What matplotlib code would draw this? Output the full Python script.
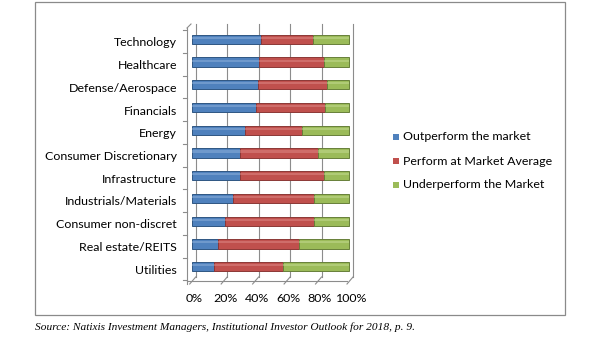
import matplotlib
matplotlib.use("Agg")
import matplotlib.pyplot as plt
import numpy as np
from matplotlib.patches import Rectangle

categories = ["Technology", "Healthcare", "Defense/Aerospace", "Financials", "Energy",
              "Consumer Discretionary", "Infrastructure", "Industrials/Materials",
              "Consumer non-discret", "Real estate/REITS", "Utilities"]
outperform = [44, 43, 42, 41, 34, 31, 31, 26, 21, 17, 14]
average    = [33, 41, 44, 44, 36, 49, 53, 52, 57, 51, 44]
underperf  = [23, 16, 14, 15, 30, 20, 16, 22, 22, 32, 42]
series_names = ["Outperform the market", "Perform at Market Average", "Underperform the Market"]
tick_vals = [0, 20, 40, 60, 80, 100]
tick_labels = ["0%", "20%", "40%", "60%", "80%", "100%"]
source = "Source: Natixis Investment Managers, Institutional Investor Outlook for 2018, p. 9."

colors = ["#4F81BD", "#C0504D", "#9BBB59"]
edges = ["#2F5683", "#8C3836", "#67803A"]
lights = ["#8FB1DC", "#DE8A88", "#C5DC93"]

W, H = 600, 355
fig = plt.figure(figsize=(6, 3.55), dpi=100)
fig.patch.set_facecolor("white")
FONT = "Lato"
FS = 8.9

# outer frame
fig.add_artist(Rectangle((35 / W, 1 - 315 / H), 530 / W, 313 / H, transform=fig.transFigure,
                         fill=False, edgecolor="#8a8a8a", linewidth=0.9))

# pixel mapping of the plot area
x0px, pxper = 191.7, 1.573        # 0% and px per percent
y0px, rowpx = 39.3, 22.74          # first row centre and row spacing
L, R, T, B = 180, 362, 20, 292
ax = fig.add_axes([L / W, 1 - B / H, (R - L) / W, (B - T) / H])
ax.set_xlim((L - x0px) / pxper, (R - x0px) / pxper)
ax.set_ylim((B - y0px) / rowpx, (T - y0px) / rowpx)
ax.axis("off")

def dx(px):
    return (px - x0px) / pxper

def dy(py):
    return (py - y0px) / rowpx

gc = "#8c8c8c"
back = 4.0
# back wall gridlines
for v in tick_vals:
    xb = v + back / pxper
    ax.plot([xb, xb], [dy(24), dy(277)], color=gc, lw=0.8, zorder=1)
    # floor diagonals
    ax.plot([v - 2 / pxper, xb], [dy(284), dy(277)], color=gc, lw=0.8, zorder=1)
# floor front line
ax.plot([dx(187), dx(347)], [dy(281), dy(281)], color=gc, lw=0.8, zorder=1)
# left axis
ax.plot([dx(187), dx(187)], [dy(28), dy(284)], color=gc, lw=0.8, zorder=1)
ax.plot([dx(187), dx(191)], [dy(28), dy(24)], color=gc, lw=0.8, zorder=1)
for k in range(len(categories) + 1):
    yk = k - 0.5 + 0.1
    ax.plot([dx(183), dx(187)], [yk, yk], color=gc, lw=0.8, zorder=1)

y = np.arange(len(categories))
h = 0.41
left = np.zeros(len(categories))
for vals, c, e, lc in zip([outperform, average, underperf], colors, edges, lights):
    vals = np.array(vals, dtype=float)
    ax.barh(y, vals, left=left, height=h, color=c, edgecolor=e, linewidth=0.7, zorder=3)
    ax.barh(y - h * 0.16, vals, left=left, height=h * 0.22, color=lc, linewidth=0,
            alpha=0.5, zorder=4)
    left += vals

# category labels (slightly below bar centres, as in the 3D original)
lab_shift = 3.5 / rowpx
for i, cat in enumerate(categories):
    ax.text(dx(177), i + lab_shift, cat, ha="right", va="center", fontsize=FS, family=FONT,
            color="#000000")
# tick labels
for v, lab in zip(tick_vals, tick_labels):
    ax.text(v + 1.5, dy(298), lab, ha="center", va="center", fontsize=FS, family=FONT)

# legend
for i, (name, c) in enumerate(zip(series_names, colors)):
    py = 137 + 24 * i
    fig.add_artist(Rectangle((393 / W, 1 - (py + 3) / H), 6 / W, 6 / H,
                             transform=fig.transFigure, facecolor=c, edgecolor="none"))
    fig.text(403 / W, 1 - py / H, name, ha="left", va="center", fontsize=FS, family=FONT)

fig.text(35 / W, 1 - 327 / H, source, ha="left", va="center", fontsize=8.2,
         family="Liberation Serif", style="italic")

fig.savefig("out.png", dpi=100, facecolor="white")
